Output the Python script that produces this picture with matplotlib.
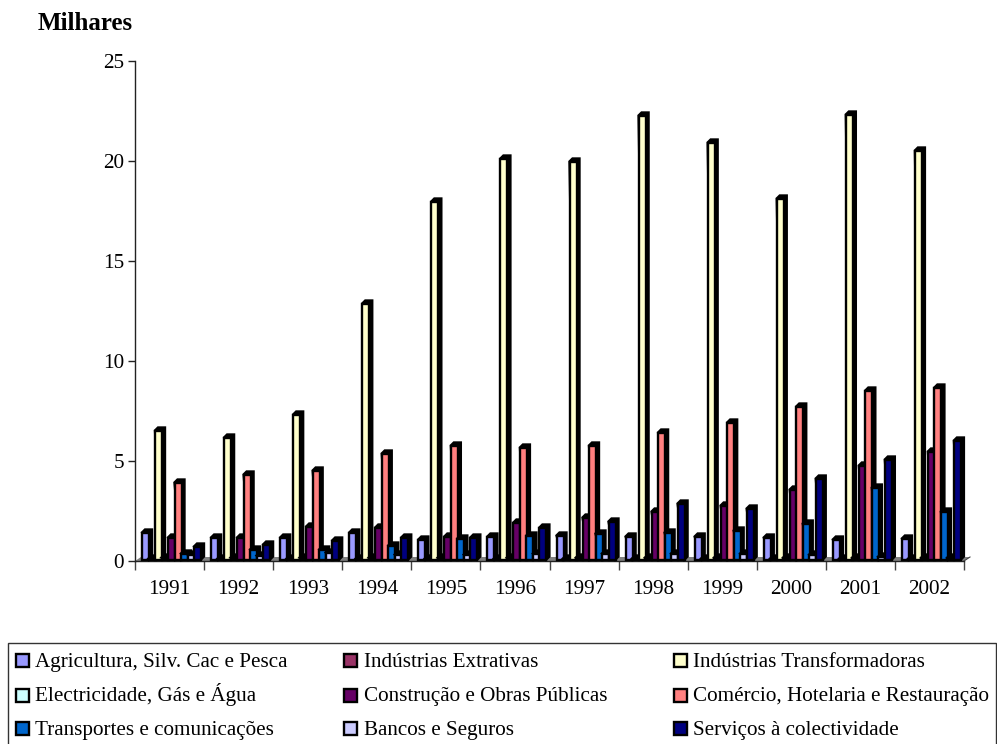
import matplotlib
matplotlib.use("Agg")
import matplotlib.pyplot as plt
from matplotlib.patches import Rectangle

plt.rcParams['font.family'] = ['Liberation Serif', 'DejaVu Serif']

W, H = 997, 744
years = ['1991','1992','1993','1994','1995','1996','1997','1998','1999','2000','2001','2002']
agric = [1.35,1.1,1.1,1.35,1.0,1.15,1.2,1.15,1.15,1.1,1.0,1.05]
extr = [0.05,0.05,0.05,0.05,0.05,0.05,0.05,0.05,0.05,0.05,0.05,0.05]
transf = [6.45,6.1,7.25,12.8,17.9,20.05,19.9,22.2,20.85,18.05,22.25,20.45]
electr = [0.1,0.1,0.1,0.1,0.1,0.1,0.1,0.1,0.1,0.1,0.1,0.1]
constr = [1.1,1.1,1.65,1.6,1.15,1.85,2.1,2.4,2.7,3.5,4.7,5.4]
comercio = [3.85,4.25,4.45,5.3,5.7,5.6,5.7,6.35,6.85,7.65,8.45,8.6]
transp = [0.3,0.5,0.5,0.7,1.05,1.2,1.3,1.35,1.45,1.8,3.6,2.4]
bancos = [0.25,0.2,0.35,0.25,0.25,0.3,0.3,0.3,0.3,0.25,0.15,0.1]
servicos = [0.65,0.75,0.95,1.1,1.1,1.6,1.9,2.8,2.55,4.05,5.0,5.95]

names = ['Agricultura, Silv. Cac e Pesca','Indústrias Extrativas','Indústrias Transformadoras',
         'Electricidade, Gás e Água','Construção e Obras Públicas','Comércio, Hotelaria e Restauração',
         'Transportes e comunicações','Bancos e Seguros','Serviços à colectividade']
series = [agric,extr,transf,electr,constr,comercio,transp,bancos,servicos]
colors = ['#9999FF','#993366','#FFFFCC','#CCFFFF','#660066','#FF8080','#0066CC','#CCCCFF','#000080']

FS = 15.2
fig = plt.figure(figsize=(W/100, H/100), dpi=100, facecolor='white')
ax = fig.add_axes([135/W, 1-561/H, (964-135)/W, 500/H])
ax.set_xlim(0, 12)
ax.set_ylim(0, 25)
for s in ('top','right'):
    ax.spines[s].set_visible(False)
for s in ('left','bottom'):
    ax.spines[s].set_linewidth(1.0)
    ax.spines[s].set_color('#222222')
ax.set_yticks([0,5,10,15,20,25])
ax.set_xticks(range(13))
ax.set_xticklabels([])
ax.set_xticks([i+0.5 for i in range(12)], minor=True)
ax.set_xticklabels(years, minor=True)
ax.tick_params(axis='x', which='major', length=6.5, width=1, color='#444444')
ax.tick_params(axis='x', which='minor', length=0, pad=14, labelsize=FS)
ax.tick_params(axis='y', length=5, width=1, color='#222222', pad=3, labelsize=FS)

px = 12/(964-135)      # data units per pixel, x
py = 25/500            # data units per pixel, y
depth_x, depth_y = 3*px, 3*py
base = 1.5*py
LW = 1.7

# floor
ax.fill([0, 6*px, 12+6*px, 12], [0, 4*py, 4*py, 0], color='#808080', lw=0, zorder=1, clip_on=False)
ax.plot([12, 12+6*px, 12+6*px], [0, 4*py, 4*py], color='#444444', lw=0.8, zorder=1, clip_on=False)

width = 7*px
for k, (vals, col) in enumerate(zip(series, colors)):
    offs = (7 + 6.5*k)*px
    for i, v in enumerate(vals):
        x0 = i + offs
        top = base + v
        ax.fill([x0, x0+depth_x, x0+width+depth_x, x0+width+depth_x, x0+width, x0],
                [top, top+depth_y, top+depth_y, base+depth_y, base, top], color='black',
                ec='black', lw=LW, zorder=3+k*0.1, clip_on=False)
    ax.bar([i+offs for i in range(12)], vals, width=width, bottom=base, align='edge',
           color=col, edgecolor='black', linewidth=LW, zorder=3.05+k*0.1, clip_on=False)

fig.text(38/W, 1-24/H, 'Milhares', fontsize=18, fontweight='bold', ha='left', va='center')

# legend (box runs past the bottom of the picture)
fig.add_artist(Rectangle((7.5/W, 1-760/H), (996-7.5)/W, 117/H, transform=fig.transFigure,
                         fc='white', ec='#333333', lw=1.0))
col_x = [16, 344, 674]
text_x = [35, 364, 693]
row_y = [660.5, 695, 728.5]
base_y = [667, 701, 735]
for idx, (name, col) in enumerate(zip(names, colors)):
    r, c = idx//3, idx%3
    fig.add_artist(Rectangle((col_x[c]/W, 1-(row_y[r]+6.5)/H), 13/W, 13/H, transform=fig.transFigure,
                             fc=col, ec='black', lw=LW))
    fig.text(text_x[c]/W, 1-base_y[r]/H, name, fontsize=FS, ha='left', va='baseline')

fig.savefig('out.png', dpi=100)
